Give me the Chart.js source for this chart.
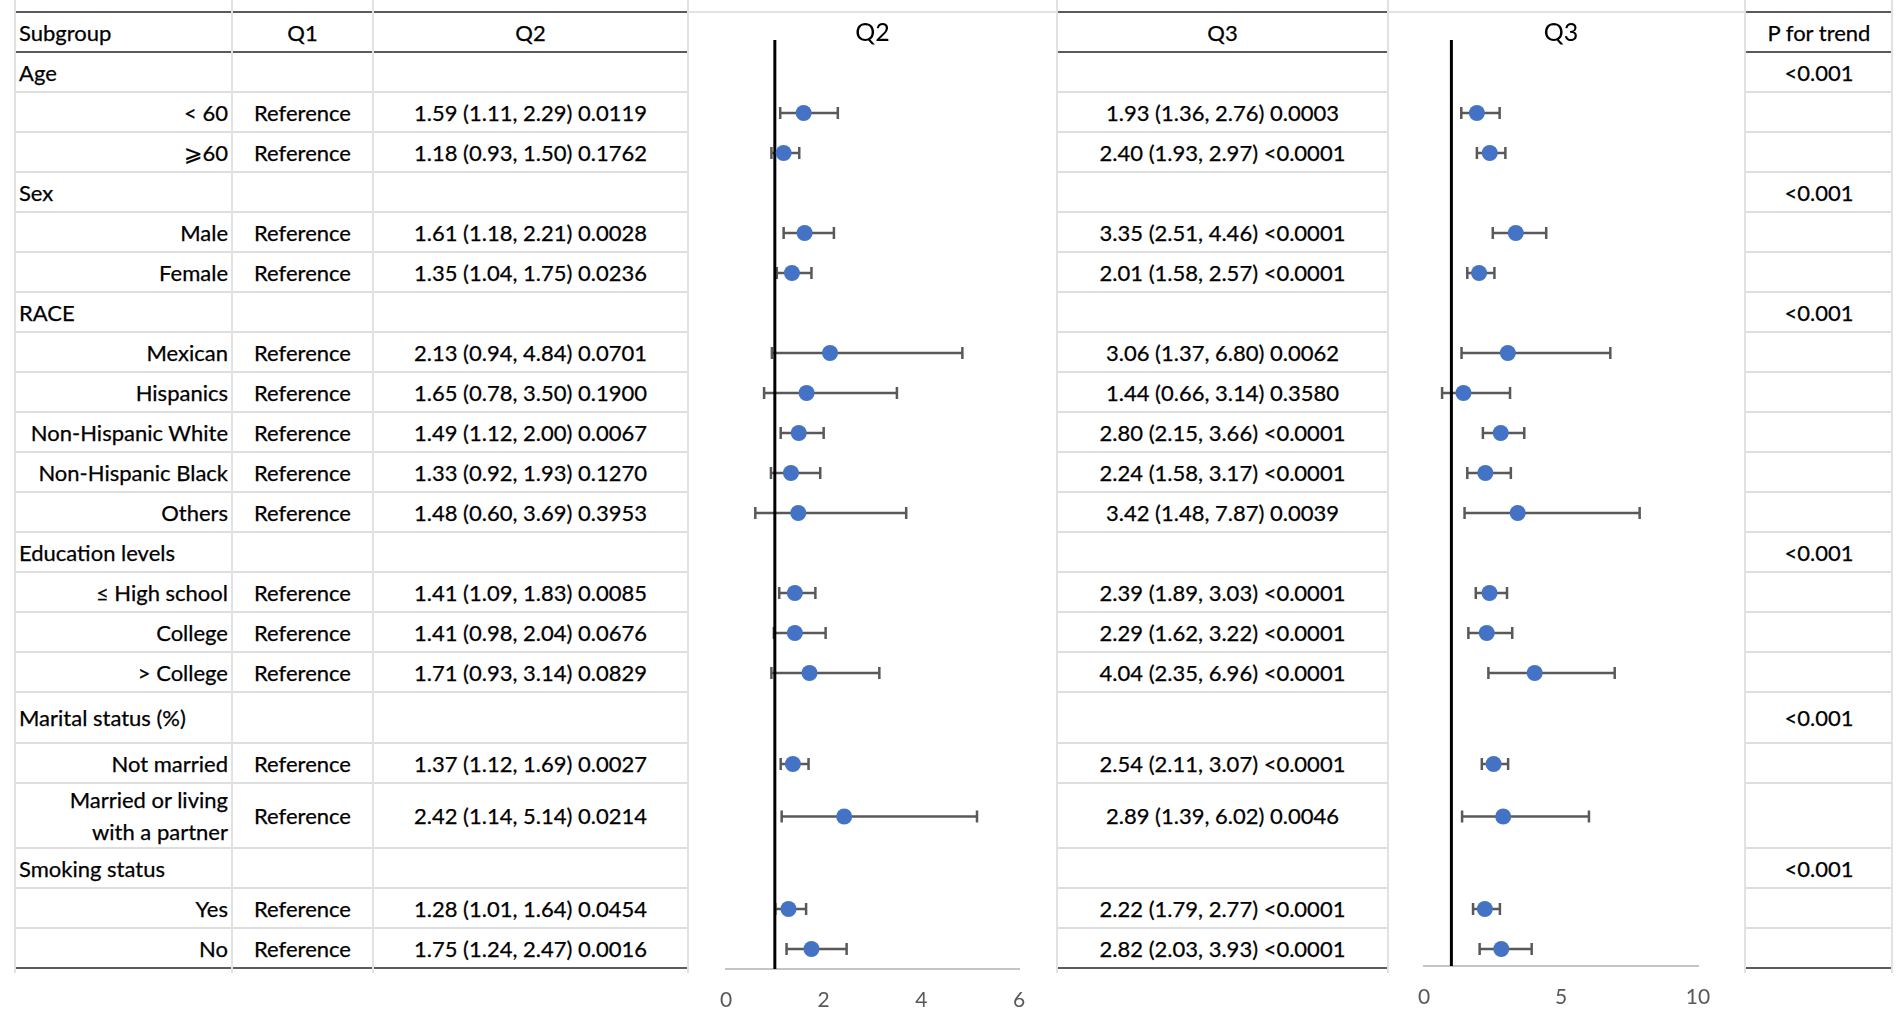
<!DOCTYPE html>
<html>
<head>
<meta charset="utf-8">
<script src="https://cdn.jsdelivr.net/npm/chart.js@4.4.1/dist/chart.umd.min.js"></script>
<style>
  body { margin: 0; width: 1902px; height: 1016px; overflow: hidden; background: #fff;
         font-family: Lato, "Noto Sans", sans-serif; color: #000; position: relative; }
  .vline { position: absolute; top: 0; height: 973px; width: 2px; background: #e2e2e2; z-index: 3; }
  #table { position: absolute; left: 15px; top: 11px; width: 1877px; z-index: 1; -webkit-text-stroke: 0.25px #000; }
  .row { display: flex; height: 40px; box-sizing: border-box; border-bottom: 2px solid #dedede; font-size: 22px; }
  .row.head { height: 42px; border-top: 2px solid #5b5b5b; border-bottom: 2px solid #5b5b5b; }
  .row.last { border-bottom: 2px solid #5b5b5b; }
  .row.tall { height: 51px; }
  .row.two { height: 65px; }
  .cell { display: flex; align-items: center; justify-content: center; box-sizing: border-box; white-space: nowrap; }
  .c0 { width: 217px; justify-content: flex-end; padding-right: 4px; text-align: right; }
  .c0.grp { justify-content: flex-start; padding-left: 4px; }
  .c0.wrap { white-space: normal; line-height: 32px; padding-left: 30px; }
  .c1 { width: 141px; }
  .c2 { width: 315px; }
  .gap1 { width: 369px; }
  .c3 { width: 331px; }
  .gap2 { width: 358px; }
  .c4 { width: 146px; }
  .box { position: absolute; top: 11px; height: 1005px; background: #fff; border-top: 2px solid #e2e2e2; z-index: 2; }
  canvas { position: absolute; z-index: 4; }
</style>
</head>
<body>
<div id="table"></div>
<div class="box" style="left:689px;width:367px"></div>
<div class="box" style="left:1389px;width:355px"></div>
<div class="vline" style="left:14px"></div>
<div class="vline" style="left:231px"></div>
<div class="vline" style="left:372px"></div>
<div class="vline" style="left:687px"></div>
<div class="vline" style="left:1056px"></div>
<div class="vline" style="left:1387px"></div>
<div class="vline" style="left:1744px"></div>
<div class="vline" style="left:1891px"></div>
<canvas id="chartQ2" width="333" height="1004" style="left:706px;top:12px"></canvas>
<canvas id="chartQ3" width="314" height="1004" style="left:1404px;top:12px"></canvas>
<script>
const headers = ["Subgroup", "Q1", "Q2", "Q3", "P for trend"];
const groupNames = ["Age", "Sex", "RACE", "Education levels", "Marital status (%)", "Smoking status"];
const groupSizes = [2, 2, 5, 3, 2, 2];
const pTrend = ["<0.001", "<0.001", "<0.001", "<0.001", "<0.001", "<0.001"];
const subgroups = ["< 60", "⩾60", "Male", "Female", "Mexican", "Hispanics", "Non-Hispanic White",
  "Non-Hispanic Black", "Others", "≤ High school", "College", "> College", "Not married",
  "Married or living with a partner", "Yes", "No"];
const q1Label = "Reference";

const q2OR   = [1.59, 1.18, 1.61, 1.35, 2.13, 1.65, 1.49, 1.33, 1.48, 1.41, 1.41, 1.71, 1.37, 2.42, 1.28, 1.75];
const q2Low  = [1.11, 0.93, 1.18, 1.04, 0.94, 0.78, 1.12, 0.92, 0.60, 1.09, 0.98, 0.93, 1.12, 1.14, 1.01, 1.24];
const q2High = [2.29, 1.50, 2.21, 1.75, 4.84, 3.50, 2.00, 1.93, 3.69, 1.83, 2.04, 3.14, 1.69, 5.14, 1.64, 2.47];
const q2P    = ["0.0119", "0.1762", "0.0028", "0.0236", "0.0701", "0.1900", "0.0067", "0.1270",
  "0.3953", "0.0085", "0.0676", "0.0829", "0.0027", "0.0214", "0.0454", "0.0016"];

const q3OR   = [1.93, 2.40, 3.35, 2.01, 3.06, 1.44, 2.80, 2.24, 3.42, 2.39, 2.29, 4.04, 2.54, 2.89, 2.22, 2.82];
const q3Low  = [1.36, 1.93, 2.51, 1.58, 1.37, 0.66, 2.15, 1.58, 1.48, 1.89, 1.62, 2.35, 2.11, 1.39, 1.79, 2.03];
const q3High = [2.76, 2.97, 4.46, 2.57, 6.80, 3.14, 3.66, 3.17, 7.87, 3.03, 3.22, 6.96, 3.07, 6.02, 2.77, 3.93];
const q3P    = ["0.0003", "<0.0001", "<0.0001", "<0.0001", "0.0062", "0.3580", "<0.0001", "<0.0001",
  "0.0039", "<0.0001", "<0.0001", "<0.0001", "<0.0001", "0.0046", "<0.0001", "<0.0001"];

const q2Ticks = [0, 2, 4, 6];
const q3Ticks = [0, 5, 10];
const nullValue = 1;

Chart.defaults.font.family = "Lato";

function fmt(or, lo, hi, p) {
  return `${or.toFixed(2)} (${lo.toFixed(2)}, ${hi.toFixed(2)}) ${p}`;
}

function addRow(parent, cls, texts, firstCls) {
  const row = document.createElement("div");
  row.className = "row " + cls;
  const names = ["c0", "c1", "c2", "gap1", "c3", "gap2", "c4"];
  names.forEach((n, i) => {
    const c = document.createElement("div");
    c.className = "cell " + n + (i === 0 && firstCls ? " " + firstCls : "");
    c.textContent = texts[i] || "";
    row.appendChild(c);
  });
  parent.appendChild(row);
  return row;
}

// build the table rows; remember the rows holding the data points
const table = document.getElementById("table");
const dataRows = [];
addRow(table, "head", [headers[0], headers[1], headers[2], "", headers[3], "", headers[4]], "grp");
let k = 0;
groupNames.forEach((g, gi) => {
  addRow(table, g === "Marital status (%)" ? "tall" : "", [g, "", "", "", "", "", pTrend[gi]], "grp");
  for (let j = 0; j < groupSizes[gi]; j++, k++) {
    const long = subgroups[k].length > 20;
    const row = addRow(table, long ? "two" : "",
      [subgroups[k], q1Label, fmt(q2OR[k], q2Low[k], q2High[k], q2P[k]), "",
       fmt(q3OR[k], q3Low[k], q3High[k], q3P[k]), "", ""], long ? "wrap" : "");
    dataRows.push(row);
  }
});
table.lastChild.classList.add("last");

// whiskers and the vertical line at OR = 1
const errorBars = {
  id: "errorBars",
  beforeDatasetsDraw(chart) {
    const { ctx, chartArea, scales: { x } } = chart;
    const ds = chart.data.datasets[0];
    const meta = chart.getDatasetMeta(0);
    ctx.save();
    ctx.strokeStyle = "#595959";
    ctx.lineWidth = 2.5;
    meta.data.forEach((pt, i) => {
      const x1 = x.getPixelForValue(ds.low[i]);
      const x2 = x.getPixelForValue(ds.high[i]);
      const y = pt.y;
      ctx.beginPath();
      ctx.moveTo(x1, y); ctx.lineTo(x2, y);
      ctx.moveTo(x1, y - 6); ctx.lineTo(x1, y + 6);
      ctx.moveTo(x2, y - 6); ctx.lineTo(x2, y + 6);
      ctx.stroke();
    });
    const xr = x.getPixelForValue(nullValue);
    ctx.strokeStyle = "#000";
    ctx.lineWidth = 3;
    ctx.beginPath();
    ctx.moveTo(xr, chartArea.top);
    ctx.lineTo(xr, chartArea.bottom);
    ctx.stroke();
    ctx.restore();
  },
};

function forest(id, title, or, lo, hi, ticks, axisHeight) {
  const canvas = document.getElementById(id);
  // y of each point = middle of its table row (page coordinates)
  const ys = dataRows.map((r) => {
    const b = r.getBoundingClientRect();
    return b.top + b.height / 2;
  });
  const chart = new Chart(canvas, {
    type: "scatter",
    data: {
      datasets: [{
        data: or.map((v, i) => ({ x: v, y: ys[i] })),
        low: lo,
        high: hi,
        pointRadius: 8,
        pointHoverRadius: 8,
        backgroundColor: "#4472C4",
        borderWidth: 0,
      }],
    },
    options: {
      responsive: false,
      animation: false,
      events: [],
      layout: { autoPadding: false, padding: { left: 20, right: 20, top: 0, bottom: 0 } },
      plugins: {
        legend: { display: false },
        tooltip: { enabled: false },
        title: {
          display: true,
          text: title,
          color: "#000",
          font: { size: 25, weight: "normal", lineHeight: 0.6 },
          padding: { top: 13, bottom: 0 },
        },
      },
      scales: {
        x: {
          type: "linear",
          min: ticks[0],
          max: ticks[ticks.length - 1],
          afterBuildTicks: (s) => { s.ticks = ticks.map((v) => ({ value: v })); },
          afterFit: (s) => { s.height = axisHeight; },
          // tick marks are hidden (grid off) but their length pushes the labels down
          grid: { display: false, drawTicks: true, tickLength: 19 },
          border: { display: true, color: "#c4c4c4", width: 2 },
          ticks: { color: "#595959", font: { size: 21 }, padding: 0 },
        },
        y: { type: "linear", display: false, reverse: true, min: 0, max: 1 },
      },
    },
    plugins: [errorBars],
  });
  // map the hidden y scale onto the page rows
  const top = canvas.getBoundingClientRect().top;
  chart.options.scales.y.min = top + chart.chartArea.top;
  chart.options.scales.y.max = top + chart.chartArea.bottom;
  chart.update("none");
  return chart;
}

forest("chartQ2", "Q2", q2OR, q2Low, q2High, q2Ticks, 47);
forest("chartQ3", "Q3", q3OR, q3Low, q3High, q3Ticks, 50);
</script>
</body>
</html>
